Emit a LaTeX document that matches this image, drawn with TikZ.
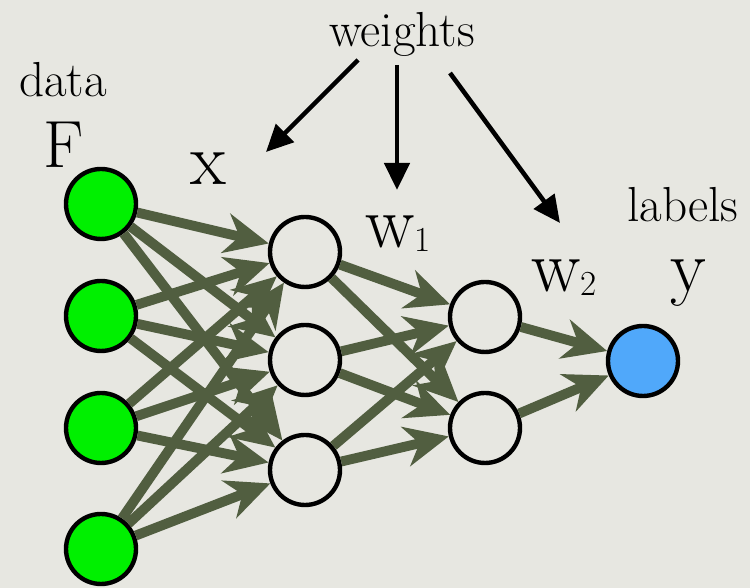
\documentclass[tikz,border=0pt]{standalone}
\usepackage{tikz}
\usetikzlibrary{arrows.meta}

\definecolor{bgpaper}{RGB}{231,231,225}
\definecolor{datagreen}{RGB}{0,240,0}
\definecolor{labelblue}{RGB}{80,168,250}
\definecolor{edgegreen}{RGB}{81,94,64}

\newcommand{\wsub}[1]{w\raisebox{-0.08cm}{\fontsize{20}{20}\selectfont #1}}

\begin{document}
\begin{tikzpicture}[
  unit/.style={circle,draw=black,line width=2.5pt,minimum size=1.4cm,inner sep=0pt},
  conn/.style={draw=edgegreen,line width=5.6pt,-{Stealth[length=0.88cm,width=0.8cm,inset=0.28cm]}},
  wgt/.style={draw=black,line width=2.6pt,-{Triangle[length=0.54cm,width=0.5cm]}},
  lbl/.style={font=\fontsize{28}{30}\selectfont,inner sep=0pt,anchor=base},
  var/.style={font=\fontsize{42}{44}\selectfont,inner sep=0pt,anchor=base}]
\fill[bgpaper] (0,0) rectangle (15,11.76);
\useasboundingbox (0,0) rectangle (15,11.76);
% units
\node[unit,fill=datagreen] (in1) at (2.02,7.68) {};
\node[unit,fill=datagreen] (in2) at (2.02,5.44) {};
\node[unit,fill=datagreen] (in3) at (2.02,3.20) {};
\node[unit,fill=datagreen] (in4) at (2.02,0.78) {};
\node[unit] (h1a) at (6.10,6.72) {};
\node[unit] (h1b) at (6.10,4.56) {};
\node[unit] (h1c) at (6.10,2.36) {};
\node[unit] (h2a) at (9.70,5.42) {};
\node[unit] (h2b) at (9.70,3.20) {};
\node[unit,fill=labelblue] (out) at (12.86,4.54) {};
% texts
\node[lbl] (weights) at (8.04,10.82) {weights};
\node[lbl] (data) at (1.26,9.82) {data};
\node[lbl] (labels) at (13.66,7.32) {labels};
\node[var,font=\fontsize{38}{40}\selectfont] (F) at (1.28,8.40) {F};
\node[var] (x) at (4.16,8.06) {x};
\node[var,anchor=base west] (w1) at (7.30,6.80) {\wsub{1}};
\node[var,anchor=base west] (w2) at (10.62,5.92) {\wsub{2}};
\node[var] (y) at (13.76,5.92) {y};
% weight pointers
\coordinate (ws1) at (7.16,10.56); \coordinate (wt1) at (5.32,8.72);
\coordinate (ws2) at (7.94,10.46); \coordinate (wt2) at (7.94,7.96);
\coordinate (ws3) at (9.00,10.30); \coordinate (wt3) at (11.20,7.30);
\draw[wgt] (ws1)--(wt1);
\draw[wgt] (ws2)--(wt2);
\draw[wgt] (ws3)--(wt3);
% connections
\draw[conn] (in1)--(h1a); \draw[conn] (in1)--(h1b); \draw[conn] (in1)--(h1c);
\draw[conn] (in2)--(h1a); \draw[conn] (in2)--(h1b); \draw[conn] (in2)--(h1c);
\draw[conn] (in3)--(h1a); \draw[conn] (in3)--(h1b); \draw[conn] (in3)--(h1c);
\draw[conn] (in4)--(h1a); \draw[conn] (in4)--(h1b); \draw[conn] (in4)--(h1c);
\draw[conn] (h1a)--(h2a); \draw[conn] (h1a)--(h2b);
\draw[conn] (h1b)--(h2a); \draw[conn] (h1b)--(h2b);
\draw[conn] (h1c)--(h2a); \draw[conn] (h1c)--(h2b);
\draw[conn] (h2a)--(out); \draw[conn] (h2b)--(out);
\end{tikzpicture}
\end{document}
